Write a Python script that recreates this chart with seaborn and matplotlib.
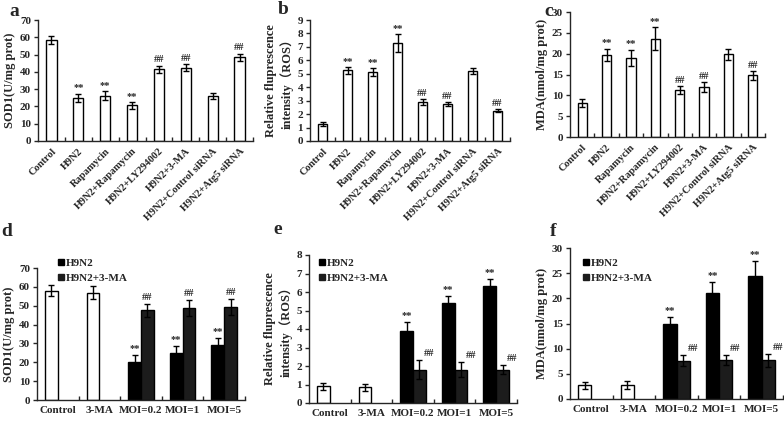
import numpy as np
import pandas as pd
import matplotlib
matplotlib.use('Agg')
import matplotlib.pyplot as plt
import seaborn as sns
from matplotlib.lines import Line2D
from matplotlib.ticker import FixedLocator

# ---- data ----
treatments = ['Control', 'H9N2', 'Rapamycin', 'H9N2+Rapamycin', 'H9N2+LY294002',
              'H9N2+3-MA', 'H9N2+Control siRNA', 'H9N2+Atg5 siRNA']

sod_a = [58.2, 25.0, 26.3, 20.6, 41.5, 42.5, 26.0, 48.4]
sod_a_err = [2.3, 2.3, 2.4, 2.0, 2.0, 2.0, 1.5, 2.0]
ros_b = [1.25, 5.25, 5.1, 7.3, 2.9, 2.75, 5.2, 2.25]
ros_b_err = [0.15, 0.25, 0.3, 0.65, 0.2, 0.15, 0.2, 0.12]
mda_c = [8.2, 19.7, 19.0, 23.6, 11.3, 12.0, 19.9, 14.8]
mda_c_err = [1.0, 1.5, 2.0, 2.8, 0.9, 1.2, 1.3, 1.0]
marks_abc = ['', '**', '**', '**', '##', '##', '', '##']

moi_groups = ['Control', '3-MA', 'MOI=0.2', 'MOI=1', 'MOI=5']
hue_levels = ['H9N2', 'H9N2+3-MA']

sod_d_h9n2 = [58.0, 57.0, 20.0, 25.0, 29.0]
sod_d_h9n2_err = [3.0, 3.3, 4.0, 3.5, 3.7]
sod_d_3ma = [np.nan, np.nan, 47.6, 48.8, 49.2]
sod_d_3ma_err = [0, 0, 3.5, 4.2, 4.2]

ros_e_h9n2 = [0.9, 0.85, 3.9, 5.4, 6.3]
ros_e_h9n2_err = [0.2, 0.2, 0.5, 0.4, 0.42]
ros_e_3ma = [np.nan, np.nan, 1.8, 1.8, 1.8]
ros_e_3ma_err = [0, 0, 0.5, 0.4, 0.25]

mda_f_h9n2 = [2.7, 2.8, 15.0, 21.0, 24.5]
mda_f_h9n2_err = [0.7, 0.8, 1.2, 2.3, 2.9]
mda_f_3ma = [np.nan, np.nan, 7.6, 7.8, 7.7]
mda_f_3ma_err = [0, 0, 1.1, 1.0, 1.3]

marks_h9n2 = ['', '', '**', '**', '**']
marks_3ma = ['', '', '##', '##', '##']

sns.set_style('ticks')
plt.rcParams['font.family'] = ['Liberation Serif', 'Noto Sans CJK SC']
plt.rcParams['font.weight'] = 'bold'
plt.rcParams['axes.labelweight'] = 'bold'
plt.rcParams['axes.linewidth'] = 1.0

W, H = 784, 422
fig = plt.figure(figsize=(W / 100, H / 100), dpi=100)


def make_axes(left, top, right, bottom):
    return fig.add_axes([left / W, 1 - bottom / H, (right - left) / W, (bottom - top) / H])


def style_axes(ax, ymax, ystep, ncat):
    sns.despine(ax=ax)
    ax.set_ylim(0, ymax)
    ax.set_yticks(np.arange(0, ymax + ystep / 2, ystep))
    ax.set_xlim(-0.5, ncat - 0.5)
    ax.xaxis.set_minor_locator(FixedLocator(np.arange(0.5, ncat, 1.0)))
    ax.tick_params(axis='x', which='major', length=0, pad=4)
    ax.tick_params(axis='x', which='minor', direction='in', length=3, width=1)
    ax.tick_params(axis='y', direction='out', length=3, width=1, labelsize=8, pad=2)
    for lab in ax.get_yticklabels():
        lab.set_fontweight('bold')


def single_panel(ax, values, errs, marks, ymax, ystep, ylabel):
    df = pd.DataFrame({'group': treatments, 'value': values})
    sns.barplot(data=df, x='group', y='value', color='white', edgecolor='black',
                linewidth=1, width=0.38, errorbar=None, ax=ax)
    ax.errorbar(np.arange(len(values)), values, yerr=errs, fmt='none',
                ecolor='black', elinewidth=1, capsize=2, capthick=1)
    for i, (v, e, m) in enumerate(zip(values, errs, marks)):
        if m:
            ax.annotate(m, (i, v + e), xytext=(0, 1), textcoords='offset points',
                        ha='center', va='bottom', fontsize=7.5, fontweight='bold')
    style_axes(ax, ymax, ystep, len(values))
    ax.set_xlabel('')
    ax.set_ylabel(ylabel, fontsize=9, labelpad=3)
    ax.set_xticks(range(len(treatments)))
    ax.set_xticklabels(treatments, rotation=45, ha='right', rotation_mode='anchor',
                       fontsize=7.5, fontweight='bold')


def grouped_panel(ax, h9n2, h9n2_err, ma3, ma3_err, ymax, ystep, ylabel,
                  hash_dx, legend_xy):
    df = pd.DataFrame({
        'group': moi_groups * 2,
        'treat': [hue_levels[0]] * 5 + [hue_levels[1]] * 5,
        'value': list(h9n2) + list(ma3),
    }).dropna()
    sns.barplot(data=df, x='group', y='value', hue='treat', order=moi_groups,
                hue_order=hue_levels, palette=['#000000', '#1c1c1c'],
                edgecolor='black', linewidth=1, width=0.62, errorbar=None,
                legend=False, ax=ax)
    vals = [h9n2, ma3]
    errs = [h9n2_err, ma3_err]
    marks = [marks_h9n2, marks_3ma]
    for p in ax.patches:
        if p.get_height() == 0 or np.isnan(p.get_height()):
            continue
        xc = p.get_x() + p.get_width() / 2
        cat = int(round(xc))
        lvl = 0 if xc < cat else 1
        v = vals[lvl][cat]
        e = errs[lvl][cat]
        if cat < 2:
            p.set_facecolor('white')
        ax.errorbar([xc], [v], yerr=[e], fmt='none', ecolor='black',
                    elinewidth=1, capsize=2, capthick=1)
        m = marks[lvl][cat]
        if m:
            dx = hash_dx if lvl == 1 else 0
            ax.annotate(m, (xc, v + e), xytext=(dx, 1.5), textcoords='offset points',
                        ha='center', va='bottom', fontsize=7.5, fontweight='bold')
    style_axes(ax, ymax, ystep, len(moi_groups))
    ax.set_xlabel('')
    ax.set_ylabel(ylabel, fontsize=9, labelpad=3)
    ax.set_xticks(range(len(moi_groups)))
    ax.set_xticklabels(moi_groups, fontsize=8, fontweight='bold')
    handles = [Line2D([], [], marker='s', ls='', color='#000000', markersize=5),
               Line2D([], [], marker='s', ls='', color='#1c1c1c', markersize=5)]
    ax.legend(handles, hue_levels, loc='upper left', bbox_to_anchor=legend_xy,
              frameon=False, handlelength=0.6, handletextpad=0.1,
              labelspacing=0.45, prop={'weight': 'bold', 'size': 8})


ax_a = make_axes(38, 20, 253, 141)
single_panel(ax_a, sod_a, sod_a_err, marks_abc, 70, 10, 'SOD1(U/mg prot)')
ax_b = make_axes(310, 20, 510, 141)
single_panel(ax_b, ros_b, ros_b_err, marks_abc, 9, 1,
             'Relative fluprescence\nintensity（ROS）')
ax_c = make_axes(570, 12, 765, 137)
single_panel(ax_c, mda_c, mda_c_err, marks_abc, 30, 5, 'MDA(nmol/mg prot)')

ax_d = make_axes(37, 268, 245, 400)
grouped_panel(ax_d, sod_d_h9n2, sod_d_h9n2_err, sod_d_3ma, sod_d_3ma_err,
              70, 10, 'SOD1(U/mg prot)', 0, (0.053, 1.15))
ax_e = make_axes(309, 255, 517, 403)
grouped_panel(ax_e, ros_e_h9n2, ros_e_h9n2_err, ros_e_3ma, ros_e_3ma_err,
              8, 1, 'Relative fluprescence\nintensity（ROS）', 7, (0.0, 1.047))
ax_f = make_axes(570, 248, 783, 399)
grouped_panel(ax_f, mda_f_h9n2, mda_f_h9n2_err, mda_f_3ma, mda_f_3ma_err,
              30, 5, 'MDA(nmol/mg prot)', 7, (0.014, 1.0))

for letter, x, y in [('a', 14, 12), ('b', 283, 10), ('c', 549, 11),
                     ('d', 7, 232), ('e', 278, 230), ('f', 553, 231)]:
    fig.text(x / W, 1 - y / H, letter, fontsize=14, fontweight='bold',
             ha='center', va='center')

fig.savefig('out.png', dpi=100)
